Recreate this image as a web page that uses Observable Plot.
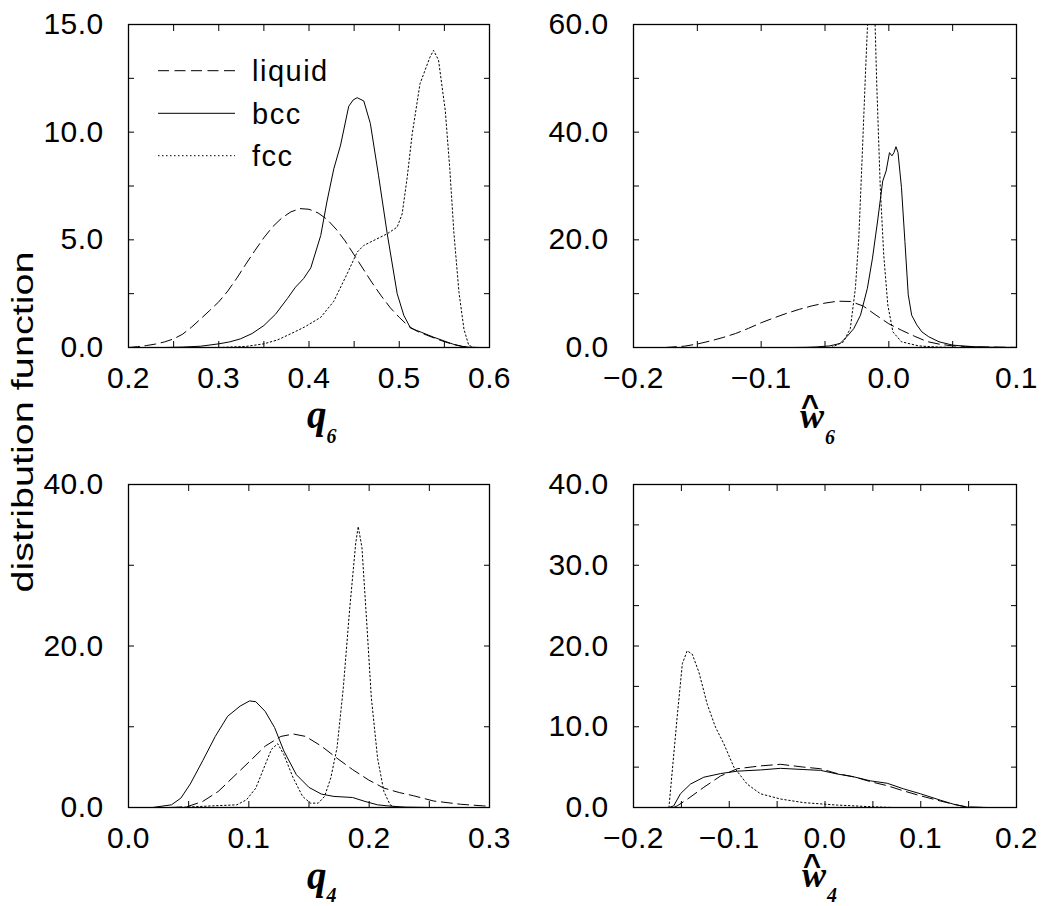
<!DOCTYPE html>
<html>
<head>
<meta charset="utf-8">
<script src="https://cdn.jsdelivr.net/npm/d3@7"></script>
<script src="https://cdn.jsdelivr.net/npm/@observablehq/plot@0.6"></script>
<style>
  body { margin: 0; background: #fff; }
  #wrap { position: relative; width: 1048px; height: 906px; overflow: hidden; background: #fff; }
  .panel { position: absolute; }
  #overlay { position: absolute; left: 0; top: 0; }
</style>
</head>
<body>
<div id="wrap"></div>
<script>
// ---------- legend / series ----------
const seriesNames = ["liquid", "bcc", "fcc"];

// ---------- panel 1: q6 ----------
const q6_liquid_x = [0.20,0.21,0.22,0.23,0.24,0.25,0.26,0.27,0.28,0.29,0.30,0.31,0.32,0.33,0.34,0.35,0.36,0.37,0.38,0.39,0.40,0.41,0.42,0.43,0.44,0.45,0.46,0.47,0.48,0.49,0.50,0.51,0.52,0.53,0.54,0.55,0.56,0.57,0.58,0.59];
const q6_liquid_y = [0.0,0.04,0.09,0.16,0.26,0.40,0.62,0.95,1.33,1.72,2.12,2.62,3.22,3.87,4.50,5.10,5.62,6.02,6.30,6.45,6.42,6.25,5.95,5.50,4.95,4.30,3.65,3.00,2.40,1.85,1.40,1.00,0.75,0.58,0.42,0.27,0.14,0.05,0.01,0.0];
const q6_bcc_x = [0.24,0.26,0.28,0.30,0.312,0.324,0.337,0.350,0.363,0.376,0.385,0.394,0.402,0.413,0.420,0.4275,0.435,0.444,0.449,0.4534,0.4607,0.468,0.477,0.4866,0.4977,0.505,0.5125,0.525,0.538,0.550,0.560,0.570,0.580];
const q6_bcc_y = [0.0,0.02,0.06,0.17,0.26,0.40,0.65,1.02,1.55,2.27,2.8,3.2,3.7,5.2,6.8,8.3,9.4,11.2,11.5,11.6,11.45,10.4,8.0,5.3,2.5,1.5,0.9,0.7,0.48,0.3,0.15,0.05,0.0];
const q6_fcc_x = [0.30,0.33,0.35,0.365,0.38,0.395,0.413,0.4275,0.442,0.4534,0.4607,0.4755,0.4866,0.4977,0.5032,0.5088,0.5143,0.523,0.534,0.538,0.5435,0.551,0.556,0.5606,0.5662,0.5717,0.577,0.583];
const q6_fcc_y = [0.0,0.05,0.17,0.35,0.64,0.95,1.40,2.15,3.40,4.43,4.74,5.05,5.28,5.59,6.2,7.9,9.9,12.25,13.48,13.8,13.35,11.0,8.3,5.3,2.55,0.85,0.1,0.0];

// ---------- panel 2: w6 ----------
const w6_liquid_x = [-0.175,-0.16,-0.15,-0.14,-0.13,-0.12,-0.11,-0.10,-0.09,-0.08,-0.07,-0.06,-0.05,-0.04,-0.03,-0.02,-0.01,0.0,0.01,0.02,0.03,0.04,0.05,0.06,0.07,0.08,0.09,0.10];
const w6_liquid_y = [0,0.25,0.65,1.2,1.85,2.6,3.55,4.6,5.5,6.35,7.1,7.75,8.25,8.6,8.55,7.7,6.0,4.4,3.2,2.1,1.1,0.6,0.3,0.2,0.12,0.08,0.05,0.03];
const w6_bcc_x = [-0.075,-0.065,-0.057,-0.0462,-0.0382,-0.0329,-0.0275,-0.0222,-0.0168,-0.0128,-0.0088,-0.0048,-0.0021,0.0005,0.0024,0.004,0.0056,0.0072,0.0099,0.0126,0.0152,0.0179,0.0219,0.0259,0.0312,0.0393,0.05,0.06,0.07,0.08,0.1];
const w6_bcc_y = [0,0.03,0.1,0.3,0.75,2.0,3.5,6.0,11.0,16.6,23.5,30.9,32.8,36.2,35.6,36.2,37.3,36.2,29.7,19.7,9.8,6.0,4.2,2.9,2.0,1.06,0.44,0.25,0.12,0.05,0.0];
const w6_fcc_x = [-0.045,-0.0355,-0.0302,-0.0262,-0.0235,-0.0208,-0.0182,-0.0163,-0.0137,-0.011,-0.0094,-0.0067,-0.004,-0.0008,0.0032,0.0099,0.0233,0.0366,0.05];
const w6_fcc_y = [0,1.06,3.5,11.0,20.4,35.9,51.5,62,100,62,48.4,29.7,17.2,7.9,2.9,1.06,0.3,0.1,0];

// ---------- panel 3: q4 ----------
const q4_liquid_x = [0.035,0.0487,0.0617,0.0747,0.0876,0.1006,0.1136,0.1266,0.137,0.1473,0.1603,0.1733,0.1862,0.1992,0.2122,0.225,0.237,0.2537,0.276,0.295,0.30];
const q4_liquid_y = [0,0.1,0.75,2.0,3.85,5.7,7.6,8.8,9.1,8.8,7.6,6.1,4.7,3.44,2.4,1.85,1.45,0.8,0.4,0.2,0.15];
const q4_bcc_x = [0.02,0.0357,0.0435,0.0513,0.0617,0.0721,0.0824,0.0928,0.1006,0.1058,0.1136,0.1214,0.1291,0.1395,0.1499,0.1603,0.1707,0.1862,0.1966,0.207,0.2174,0.23,0.25];
const q4_bcc_y = [0,0.33,1.16,2.9,5.8,8.8,11.3,12.56,13.2,13.1,11.9,9.9,7.0,4.06,2.5,1.66,1.37,1.24,0.75,0.33,0.17,0.05,0];
const q4_fcc_x = [0.04,0.07,0.09,0.098,0.1058,0.1136,0.1188,0.124,0.1291,0.1369,0.1447,0.1512,0.1577,0.1629,0.1681,0.1733,0.1785,0.1837,0.1888,0.1909,0.194,0.1979,0.2018,0.207,0.2122,0.2174,0.2226];
const q4_fcc_y = [0,0.2,0.33,0.95,2.4,5.3,7.2,7.9,6.55,3.65,1.37,0.54,0.54,1.37,3.65,7.4,14.8,24.4,32.7,34.8,32.2,23.1,13.6,6.1,2.0,0.33,0];

// ---------- panel 4: w4 ----------
const w4_liquid_x = [-0.158,-0.1544,-0.144,-0.1266,-0.1091,-0.0917,-0.0674,-0.0465,-0.0221,-0.0047,0.0127,0.030,0.0475,0.065,0.0823,0.0997,0.1206,0.1345,0.1485,0.17,0.2];
const w4_liquid_y = [0,0.2,1.0,2.5,3.9,4.8,5.15,5.35,5.0,4.8,4.2,3.8,3.2,2.7,2.05,1.45,0.8,0.4,0.05,0,0];
const w4_bcc_x = [-0.163,-0.158,-0.151,-0.1405,-0.1266,-0.1091,-0.0917,-0.0674,-0.0465,-0.0221,-0.0047,0.0127,0.030,0.0475,0.065,0.0823,0.0997,0.1206,0.1345,0.1485,0.17,0.2];
const w4_bcc_y = [0,0.2,1.7,2.9,3.75,4.2,4.5,4.65,4.85,4.7,4.6,4.15,3.8,3.3,3.0,2.3,1.7,0.9,0.4,0.05,0,0];
const w4_fcc_x = [-0.163,-0.1544,-0.149,-0.144,-0.1387,-0.1318,-0.123,-0.1144,-0.1057,-0.0952,-0.0813,-0.0674,-0.0465,-0.0221,0.0127,0.0475,0.07];
const w4_fcc_y = [0,11.2,17.8,19.4,19.0,16.8,12.8,9.95,7.9,5.0,2.9,1.7,1.05,0.6,0.3,0.1,0];

// ---------- ticks ----------
const q6_xTicks = [0.2,0.25,0.3,0.35,0.4,0.45,0.5,0.55,0.6];
const q6_xLabels = [0.2,0.3,0.4,0.5,0.6];
const q6_yTicks = [0,2.5,5,7.5,10,12.5,15];
const q6_yLabels = [0,5,10,15];
const w6_xTicks = [-0.2,-0.15,-0.1,-0.05,0,0.05,0.1];
const w6_xLabels = [-0.2,-0.1,0,0.1];
const w6_yTicks = [0,10,20,30,40,50,60];
const w6_yLabels = [0,20,40,60];
const q4_xTicks = [0,0.05,0.1,0.15,0.2,0.25,0.3];
const q4_xLabels = [0,0.1,0.2,0.3];
const q4_yTicks = [0,10,20,30,40];
const q4_yLabels = [0,20,40];
const w4_xTicks = [-0.2,-0.15,-0.1,-0.05,0,0.05,0.1,0.15,0.2];
const w4_xLabels = [-0.2,-0.1,0,0.1,0.2];
const w4_yTicks = [0,5,10,15,20,25,30,35,40];
const w4_yLabels = [0,10,20,30,40];

// ---------- styling ----------
const dashes = { liquid: "11,5.5", bcc: null, fcc: "1.5,2.5" };
const sansFont = "'Liberation Sans', Arial, Helvetica, sans-serif";
const serifFont = "'Liberation Serif', 'Times New Roman', serif";
const fmt = d3.format(".1f");

const wrap = document.getElementById("wrap");

function rows(xs, ys) { return xs.map((x, i) => ({ x, y: ys[i] })); }

function makePanel(cfg) {
  const { left, top, width, height, frame, xDomain, yDomain, xTicks, xLabels, yTicks, yLabels, series } = cfg;
  const [fl, fr, ft, fb] = frame;
  const marks = [];
  for (const s of series) {
    marks.push(Plot.line(rows(s.x, s.y), {
      x: "x", y: "y", stroke: "black", strokeWidth: 1,
      strokeDasharray: dashes[s.name], clip: true
    }));
  }
  marks.push(
    Plot.axisX({ anchor: "bottom", ticks: xTicks, tickSize: -6, tickFormat: () => "", label: null }),
    Plot.axisX({ anchor: "top", ticks: xTicks, tickSize: -6, tickFormat: () => "", label: null }),
    Plot.axisY({ anchor: "left", ticks: yTicks, tickSize: -6, tickFormat: () => "", label: null }),
    Plot.axisY({ anchor: "right", ticks: yTicks, tickSize: -6, tickFormat: () => "", label: null }),
    Plot.axisX({ anchor: "bottom", ticks: xLabels, tickSize: 0, tickPadding: 19, tickFormat: fmt, fontSize: 30, label: null }),
    Plot.axisY({ anchor: "left", ticks: yLabels, tickSize: 0, tickPadding: 25, tickFormat: fmt, fontSize: 30, label: null }),
    Plot.frame({ stroke: "black", strokeWidth: 1.3 })
  );
  const chart = Plot.plot({
    width, height,
    marginLeft: fl - left, marginRight: left + width - fr,
    marginTop: ft - top, marginBottom: top + height - fb,
    x: { domain: xDomain },
    y: { domain: yDomain },
    style: { fontFamily: sansFont, color: "black", background: "transparent", overflow: "visible", letterSpacing: "0.4px" },
    marks
  });
  chart.classList.add("panel");
  chart.style.left = left + "px";
  chart.style.top = top + "px";
  wrap.appendChild(chart);
}

makePanel({
  left: 0, top: 0, width: 524, height: 450, frame: [128, 489, 24, 347],
  xDomain: [0.2, 0.6], yDomain: [0, 15],
  xTicks: q6_xTicks, xLabels: q6_xLabels, yTicks: q6_yTicks, yLabels: q6_yLabels,
  series: [
    { name: "liquid", x: q6_liquid_x, y: q6_liquid_y },
    { name: "bcc", x: q6_bcc_x, y: q6_bcc_y },
    { name: "fcc", x: q6_fcc_x, y: q6_fcc_y }
  ]
});
makePanel({
  left: 524, top: 0, width: 524, height: 450, frame: [633, 1016, 24, 347],
  xDomain: [-0.2, 0.1], yDomain: [0, 60],
  xTicks: w6_xTicks, xLabels: w6_xLabels, yTicks: w6_yTicks, yLabels: w6_yLabels,
  series: [
    { name: "liquid", x: w6_liquid_x, y: w6_liquid_y },
    { name: "bcc", x: w6_bcc_x, y: w6_bcc_y },
    { name: "fcc", x: w6_fcc_x, y: w6_fcc_y }
  ]
});
makePanel({
  left: 0, top: 450, width: 524, height: 456, frame: [128, 489, 484, 807],
  xDomain: [0, 0.3], yDomain: [0, 40],
  xTicks: q4_xTicks, xLabels: q4_xLabels, yTicks: q4_yTicks, yLabels: q4_yLabels,
  series: [
    { name: "liquid", x: q4_liquid_x, y: q4_liquid_y },
    { name: "bcc", x: q4_bcc_x, y: q4_bcc_y },
    { name: "fcc", x: q4_fcc_x, y: q4_fcc_y }
  ]
});
makePanel({
  left: 524, top: 450, width: 524, height: 456, frame: [633, 1016, 484, 807],
  xDomain: [-0.2, 0.2], yDomain: [0, 40],
  xTicks: w4_xTicks, xLabels: w4_xLabels, yTicks: w4_yTicks, yLabels: w4_yLabels,
  series: [
    { name: "liquid", x: w4_liquid_x, y: w4_liquid_y },
    { name: "bcc", x: w4_bcc_x, y: w4_bcc_y },
    { name: "fcc", x: w4_fcc_x, y: w4_fcc_y }
  ]
});

// ---------- overlay: axis titles, y title, legend ----------
const svg = d3.select(wrap).append("svg")
  .attr("id", "overlay").attr("width", 1048).attr("height", 906)
  .style("pointer-events", "none");

// y-axis title
svg.append("text")
  .attr("transform", "translate(33,422) rotate(-90)")
  .attr("text-anchor", "middle")
  .attr("font-family", sansFont).attr("font-size", 30)
  .attr("textLength", 341).attr("lengthAdjust", "spacingAndGlyphs")
  .text("distribution function");

function qLabel(x, y, sub, subDy) {
  const t = svg.append("text").attr("x", x).attr("y", y)
    .attr("font-family", serifFont).attr("font-weight", "bold").attr("font-style", "italic")
    .attr("font-size", 39);
  t.append("tspan").text("q");
  t.append("tspan").attr("font-size", 20).attr("dy", subDy).text(sub);
}
function wLabel(x, y, sub, subDy) {
  // one text element: hat (circumflex) above an italic w, then the subscript
  const t = svg.append("text")
    .attr("font-family", serifFont).attr("font-weight", "bold");
  t.append("tspan")
    .attr("x", x + 10).attr("y", y - 11)
    .attr("text-anchor", "middle")
    .attr("font-family", sansFont).attr("font-size", 31)
    .text("^");
  t.append("tspan")
    .attr("x", x).attr("y", y)
    .attr("text-anchor", "start")
    .attr("font-style", "italic").attr("font-size", 36)
    .text("w");
  t.append("tspan")
    .attr("font-style", "italic").attr("font-size", 20)
    .attr("dy", subDy).attr("dx", 1)
    .text(sub);
}
qLabel(307, 428, "6", 15);
wLabel(800, 428, "6", 16);
qLabel(307, 889, "4", 13);
wLabel(802, 887, "4", 15);

// legend
const legendY = [70.7, 113.3, 155.7];
seriesNames.forEach((name, i) => {
  svg.append("line")
    .attr("x1", 158).attr("x2", 235).attr("y1", legendY[i]).attr("y2", legendY[i])
    .attr("stroke", "black").attr("stroke-width", 1)
    .attr("stroke-dasharray", dashes[name]);
  svg.append("text")
    .attr("x", 252).attr("y", legendY[i] + 10.5)
    .attr("font-family", sansFont).attr("font-size", 29)
    .attr("letter-spacing", "1.5px")
    .text(name);
});
</script>
</body>
</html>
